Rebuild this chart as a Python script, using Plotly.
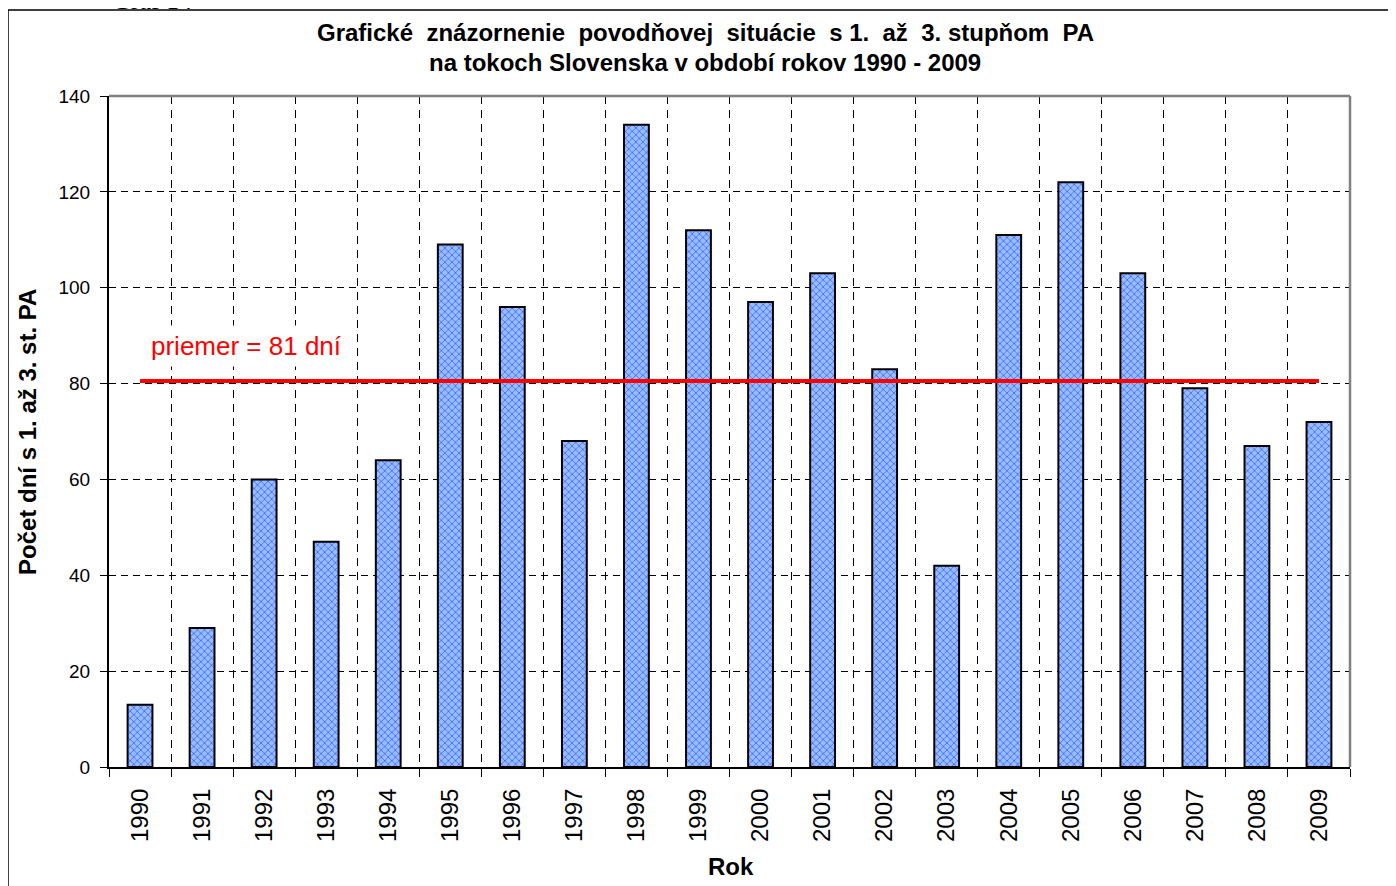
import plotly.graph_objects as go

# Data
years = [str(y) for y in range(1990, 2010)]
days = [13, 29, 60, 47, 64, 109, 96, 68, 134, 112, 97, 103, 83, 42, 111, 122, 103, 79, 67, 72]
y_ticks = [0, 20, 40, 60, 80, 100, 120, 140]

mean_days = sum(days) / len(days)

# the page has an 8px body margin, so the figure is a bit smaller
OFF = 8
W, H = 1396 - OFF, 886 - OFF
ML, MR, MT, MB = 101, 46, 88, 119
PW, PH = W - ML - MR, H - MT - MB


def px_x(page_x):
    return (page_x - OFF - ML) / PW


def px_y(page_y):
    return (H - MB - (page_y - OFF)) / PH


FONT = "Liberation Sans, Arial, sans-serif"

fig = go.Figure()

fig.add_trace(go.Bar(
    x=years,
    y=days,
    marker=dict(
        color="#94bfff",
        line=dict(color="black", width=2),
        pattern=dict(shape="x", fgcolor="#0000ff", size=5, solidity=0.3, fillmode="overlay"),
    ),
    showlegend=False,
))

# average line
fig.add_trace(go.Scatter(
    x=years,
    y=[mean_days] * len(years),
    mode="lines",
    line=dict(color="#ff0000", width=4),
    showlegend=False,
))

fig.add_annotation(
    x=px_x(145), y=px_y(346), xref="paper", yref="paper",
    xanchor="left", yanchor="middle",
    text=f"priemer = {round(mean_days)} dní",
    showarrow=False,
    font=dict(family=FONT, size=26, color="#ff0000"),
    bgcolor="white", borderpad=5,
)

# title
fig.add_annotation(
    x=px_x(705), y=px_y(32), xref="paper", yref="paper",
    xanchor="center", yanchor="middle", showarrow=False,
    text="Grafické  znázornenie  povodňovej  situácie  s 1.  až  3. stupňom  PA",
    font=dict(family=FONT, size=24, color="black", weight="bold"),
)
fig.add_annotation(
    x=px_x(705), y=px_y(62), xref="paper", yref="paper",
    xanchor="center", yanchor="middle", showarrow=False,
    text="na tokoch Slovenska v období rokov 1990 - 2009",
    font=dict(family=FONT, size=24, color="black", weight="bold"),
)

# caption, cut off at the top of the page
fig.add_annotation(
    x=px_x(152), y=px_y(1), xref="paper", yref="paper",
    xanchor="center", yanchor="middle", showarrow=False,
    text="Graf 14",
    font=dict(family="Liberation Serif, Times New Roman, serif", size=26, color="black"),
)

# axis titles
fig.add_annotation(
    x=px_x(28), y=px_y(432), xref="paper", yref="paper",
    xanchor="center", yanchor="middle", showarrow=False, textangle=-90,
    text="<b>Počet dní s 1. až 3. st. PA</b>",
    font=dict(family=FONT, size=24, color="black"),
)
fig.add_annotation(
    x=px_x(731), y=px_y(866), xref="paper", yref="paper",
    xanchor="center", yanchor="middle", showarrow=False,
    text="<b>Rok</b>",
    font=dict(family=FONT, size=24, color="black"),
)

# outer frame
fig.add_shape(type="rect", xref="paper", yref="paper",
              x0=px_x(8), x1=px_x(1420), y0=px_y(900), y1=px_y(10),
              line=dict(color="black", width=1.5), layer="below")

# plot area top and right edge
fig.add_shape(type="line", xref="paper", yref="paper", x0=0, x1=1, y0=1, y1=1,
              line=dict(color="#808080", width=2.5))
fig.add_shape(type="line", xref="paper", yref="paper", x0=1, x1=1, y0=0, y1=1,
              line=dict(color="#808080", width=2.5))

fig.update_xaxes(
    type="category",
    tickson="boundaries",
    showgrid=True, gridcolor="black", gridwidth=1, griddash="8px,6px",
    ticks="outside", ticklen=8, tickcolor="black",
    tickangle=-90, ticklabelstandoff=10,
    tickfont=dict(family=FONT, size=24, color="black"),
    showline=True, linecolor="black", linewidth=2,
    range=[-0.5, 19.5],
)
fig.update_yaxes(
    range=[0, 140],
    tickvals=y_ticks,
    showgrid=True, gridcolor="black", gridwidth=1, griddash="7px,5px",
    ticks="outside", ticklen=7, tickcolor="black",
    ticklabelstandoff=6,
    tickfont=dict(family=FONT, size=19, color="black"),
    showline=True, linecolor="black", linewidth=2,
    zeroline=False,
)

fig.update_layout(
    width=W, height=H,
    margin=dict(l=ML, r=MR, t=MT, b=MB),
    paper_bgcolor="white",
    plot_bgcolor="white",
    bargap=0.6,
    font=dict(family=FONT, color="black"),
)

fig.write_html("out.html")
